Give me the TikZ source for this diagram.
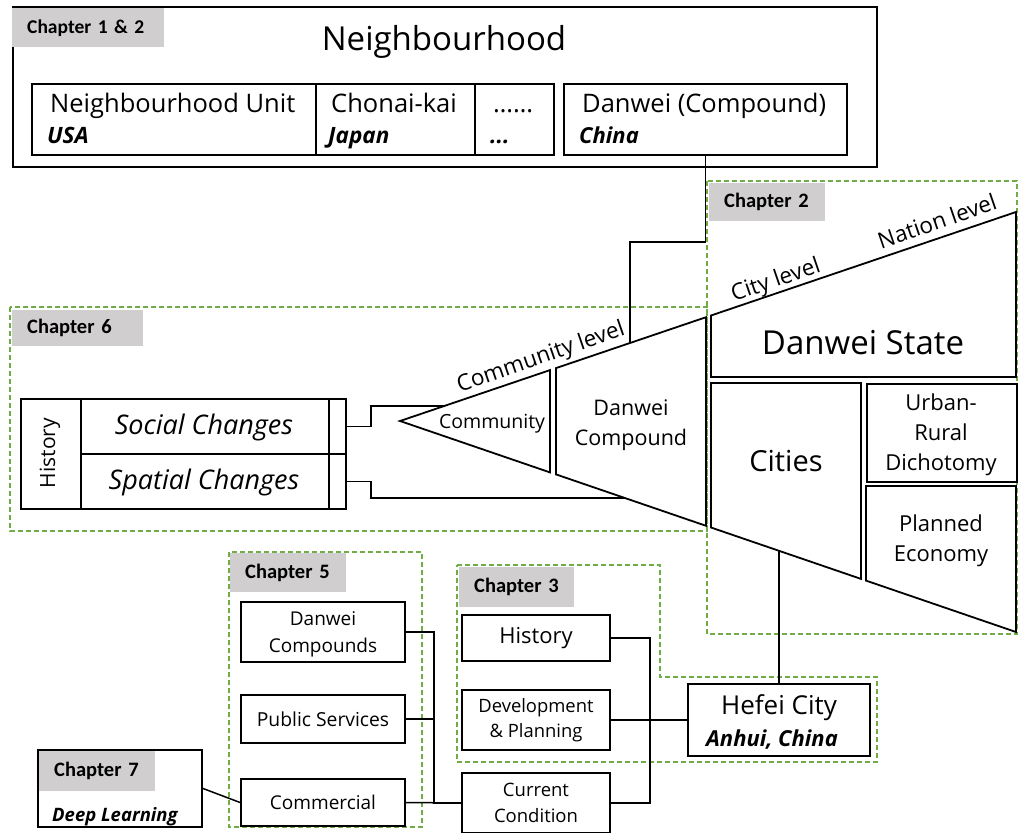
\documentclass[tikz,border=0pt]{standalone}
\usepackage{fontspec}
\setmainfont{Open Sans}
\newfontfamily\tagfont{Carlito}
\definecolor{zone}{RGB}{112,173,71}
\definecolor{taggray}{RGB}{208,206,206}
\newcommand{\fs}[2]{\fontsize{#1}{#2}\selectfont}
\begin{document}
\begin{tikzpicture}[x=1pt,y=-1pt,
  box/.style={draw=black, line width=1.8pt, inner sep=0pt, align=center},
  link/.style={draw=black, line width=1.5pt},
  chapzone/.style={draw=zone, line width=1.4pt, dash pattern=on 5pt off 3pt},
  chaptag/.style={fill=taggray, anchor=north west, inner xsep=15pt, inner ysep=0pt,
    align=left, font=\tagfont\bfseries\fs{20.5}{24}},
  lbl/.style={inner sep=0pt, anchor=base west},
  slant/.style={inner sep=0pt, rotate=19, font=\fs{22.5}{26}}]
\useasboundingbox (0,0) rectangle (1019,832);

% chapter zones (dashed)
\draw[chapzone] (707,181) rectangle (1017,634);
\draw[chapzone] (10,307) rectangle (707,531);
\draw[chapzone] (229,552) rectangle (422,827);
\draw[chapzone] (457,565) -- (660,565) -- (660,677) -- (877,677) -- (877,762) -- (457,762) -- cycle;

% neighbourhood frame
\node[box, anchor=north west, minimum width=864, minimum height=160] (frame) at (12,6) {};
\node[chaptag, minimum height=39, text width=122, font=\tagfont\bfseries\fs{19.5}{23}] (tag12) at (12,8) {Chapter 1 \& 2};
\node[inner sep=0pt, font=\fs{33}{38}] (title) at (444,42) {Neighbourhood};

\node[box, anchor=north west, minimum width=284, minimum height=71] (unit) at (31,83) {};
\node[box, anchor=north west, minimum width=159, minimum height=71] (chonai) at (315,83) {};
\node[box, anchor=north west, minimum width=79, minimum height=71] (etc) at (474,83) {};
\node[box, anchor=north west, minimum width=283, minimum height=71] (danweic) at (563,83) {};

\node[lbl, font=\fs{25.5}{29}] (unitA) at (50,113) {Neighbourhood Unit};
\node[lbl, font=\fs{22.5}{26}\bfseries\itshape] (unitB) at (47,143) {USA};
\node[lbl, font=\fs{25.5}{29}] (chonaiA) at (331,113) {Chonai-kai};
\node[lbl, font=\fs{22.5}{26}\bfseries\itshape] (chonaiB) at (328,143) {Japan};
\node[lbl, font=\fs{25.5}{29}] (etcA) at (493,113) {……};
\node[lbl, font=\fs{22.5}{26}\bfseries\itshape] (etcB) at (490,143) {...};
\node[lbl, font=\fs{25.5}{29}] (danweicA) at (582,113) {Danwei (Compound)};
\node[lbl, font=\fs{22}{26}\bfseries\itshape] (danweicB) at (579,143) {China};

% funnel: community -> compound -> city -> nation
\coordinate (apex) at (400,421);
\coordinate (comTop) at (550,370.1);
\coordinate (comBot) at (550,472.4);
\coordinate (dcTL) at (556,368.1);
\coordinate (dcTR) at (706,317.2);
\coordinate (dcBR) at (706,525.8);
\coordinate (dcBL) at (556,474.4);
\coordinate (dsTL) at (711,315.5);
\coordinate (dsTR) at (1016,212);
\coordinate (dsBR) at (1016,377);
\coordinate (dsBL) at (711,377);
\coordinate (ciTL) at (711,383);
\coordinate (ciTR) at (861,383);
\coordinate (ciBR) at (861,578.9);
\coordinate (ciBL) at (711,527.5);
\coordinate (peTL) at (866,486);
\coordinate (peTR) at (1016,486);
\coordinate (peBR) at (1016,632);
\coordinate (peBL) at (866,580.6);

\draw[box] (apex) -- (comTop) -- (comBot) -- cycle;
\draw[box] (dcTL) -- (dcTR) -- (dcBR) -- (dcBL) -- cycle;
\draw[box] (dsTL) -- (dsTR) -- (dsBR) -- (dsBL) -- cycle;
\draw[box] (ciTL) -- (ciTR) -- (ciBR) -- (ciBL) -- cycle;
\node[box, anchor=north west, minimum width=150, minimum height=98] (urban) at (866,383) {};
\draw[box] (peTL) -- (peTR) -- (peBR) -- (peBL) -- cycle;

\node[inner sep=0pt, font=\fs{19.5}{23}] (community) at (492,424) {Community};
\node[inner sep=0pt, align=center, font=\fs{21.5}{30}] (compound) at (631,425) {Danwei\\Compound};
\node[inner sep=0pt, font=\fs{33}{38}] (state) at (863,343) {Danwei State};
\node[inner sep=0pt, font=\fs{29}{33}] (cities) at (786,461) {Cities};
\node[inner sep=0pt, align=center, font=\fs{22}{30}] (dichotomy) at (941,435) {Urban-\\Rural\\Dichotomy};
\node[inner sep=0pt, align=center, font=\fs{22}{30}] (planned) at (941,541) {Planned\\Economy};

\node[slant] (lvlcom) at (541,358) {Community level};
\node[slant] (lvlcity) at (776,281) {City level};
\node[slant] (lvlnation) at (937,221) {Nation level};

% compound link
\coordinate (slantHit) at (630,343);
\draw[link] (danweic.south) -- ++(0,86) -| (slantHit);

% chapter 2 / 6 tags
\node[chaptag, minimum height=38, text width=86] (tag2) at (709,183) {Chapter 2};
\node[chaptag, minimum height=36, text width=101] (tag6) at (12,310) {Chapter 6};

% history table
\node[box, anchor=north west, minimum width=60, minimum height=110] (histcol) at (20,398) {};
\node[inner sep=0pt, rotate=90, font=\fs{21}{24}] (histtxt) at (50,453) {History};
\node[box, anchor=north west, minimum width=248, minimum height=55] (social) at (80,398) {};
\node[box, anchor=north west, minimum width=248, minimum height=55] (spatial) at (80,453) {};
\node[inner sep=0pt, font=\fs{27}{30}\itshape] (socialTxt) at (204,427) {Social Changes};
\node[inner sep=0pt, font=\fs{27}{30}\itshape] (spatialTxt) at (204,482) {Spatial Changes};
\node[box, anchor=north west, minimum width=17, minimum height=55] (socialEnd) at (328,398) {};
\node[box, anchor=north west, minimum width=17, minimum height=55] (spatialEnd) at (328,453) {};

\coordinate (comHitTop) at (444,406);
\coordinate (comHitBot) at (625,498);
\draw[link] (socialEnd.east) -- ++(24,0) |- (comHitTop);
\draw[link] (spatialEnd.east) -- ++(24,0) |- (comHitBot);

% chapter 5
\node[chaptag, minimum height=39, text width=86] (tag5) at (230,553) {Chapter 5};
\node[box, minimum width=164, minimum height=60] (compounds) at (323,632) {};
\node[inner sep=0pt, align=center, font=\fs{19}{27}] (compoundsTxt) at (323,634) {Danwei\\Compounds};
\node[box, minimum width=164, minimum height=48, font=\fs{19.3}{23}] (services) at (323,719) {Public Services};
\node[box, minimum width=164, minimum height=47, font=\fs{19}{23}] (commercial) at (323,802.5) {Commercial};

% chapter 7
\node[box, anchor=north west, minimum width=164, minimum height=77] (ch7) at (37,749) {};
\node[chaptag, minimum height=40, text width=86] (tag7) at (39,751) {Chapter 7};
\node[lbl, font=\fs{18.5}{22}\bfseries\itshape] (deep) at (52,821) {Deep Learning};

% chapter 3
\node[chaptag, minimum height=40, text width=85] (tag3) at (459,567) {Chapter 3};
\node[box, minimum width=148, minimum height=46, font=\fs{22}{26}] (history3) at (536,638) {History};
\node[box, minimum width=148, minimum height=60, font=\fs{18.4}{25}] (devplan) at (536,720) {Development\\\& Planning};
\node[box, minimum width=148, minimum height=60, font=\fs{18.5}{26}] (current) at (536,803) {Current\\Condition};

\node[box, minimum width=182, minimum height=72] (hefei) at (779,720) {};
\node[inner sep=0pt, font=\fs{26}{30}] (hefeiA) at (779,708) {Hefei City};
\node[inner sep=0pt, font=\fs{22}{26}\bfseries\itshape] (hefeiB) at (772,740) {Anhui, China};

% links
\draw[link] (compounds.east) -- ++(28,0) |- (current.west);
\draw[link] (services.east) -- ++(28,0);
\draw[link] (commercial.east) -- (current.west);
\draw[link] (ch7.east) -- (commercial.west);
\draw[link] (history3.east) -- ++(39,0) |- (current.east);
\draw[link] (devplan.east) -- (hefei.west);
\coordinate (citiesFoot) at (779,551);
\draw[link] (hefei.north) -- (citiesFoot);
\end{tikzpicture}
\end{document}
